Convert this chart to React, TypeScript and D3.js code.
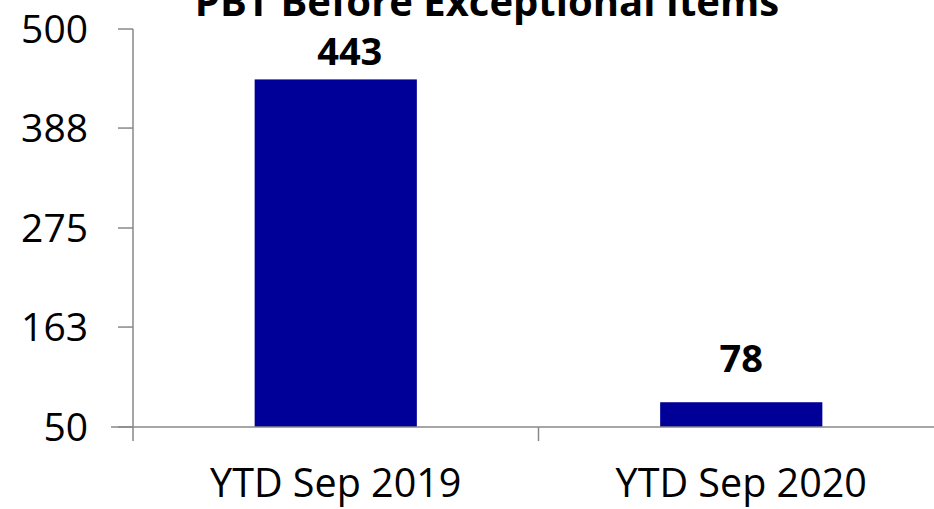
import React from "react";
import * as d3 from "d3";

const categories = ["YTD Sep 2019", "YTD Sep 2020"];
const values = [443, 78];
const yTicks = [50, 163, 275, 388, 500];
const title = "PBT Before Exceptional Items";

const W = 934;
const H = 509;
const FONT = "'Open Sans', sans-serif";
const labelGap = [14, 30];
const labelShift = [14, 0];

export default function App() {
  const left = 133;
  const right = 944;
  const top = 29;
  const bottom = 427;
  const y = d3.scaleLinear().domain([50, 500]).range([bottom, top]);
  const band = d3.scaleBand().domain(categories).range([left, left + 2 * 405.5]);
  return (
    <svg width={W} height={H} style={{ position: "absolute", left: 0, top: 0, background: "#fff" }}>
      <text x={487} y={16} textAnchor="middle" fontFamily={FONT} fontWeight="bold" fontSize={40}>{title}</text>
      {categories.map((c, i) => (
        <g key={c}>
          <rect x={band(c)! + band.bandwidth() * 0.3} y={y(values[i])} width={band.bandwidth() * 0.4} height={bottom - y(values[i])} fill="#000099" />
          <text x={band(c)! + band.bandwidth() / 2 + labelShift[i]} y={y(values[i]) - labelGap[i]} textAnchor="middle" fontFamily={FONT} fontWeight="bold" fontSize={38}>{values[i]}</text>
          <text x={band(c)! + band.bandwidth() / 2} y={497} textAnchor="middle" fontFamily={FONT} fontSize={39.5}>{c}</text>
        </g>
      ))}
      <line x1={left} x2={left} y1={top} y2={441} stroke="#888" strokeWidth={1.5} />
      {yTicks.map((t) => (
        <g key={t}>
          <line x1={118} x2={left} y1={y(t)} y2={y(t)} stroke="#888" strokeWidth={1.5} />
          <text x={88} y={y(t)} dy="0.36em" textAnchor="end" fontFamily={FONT} fontSize={39}>{t}</text>
        </g>
      ))}
      <line x1={111} x2={right} y1={bottom} y2={bottom} stroke="#888" strokeWidth={1.5} />
      {categories.map((c) => (
        <line key={c} x1={band(c)! + band.bandwidth()} x2={band(c)! + band.bandwidth()} y1={bottom} y2={441} stroke="#888" strokeWidth={1.5} />
      ))}
    </svg>
  );
}
